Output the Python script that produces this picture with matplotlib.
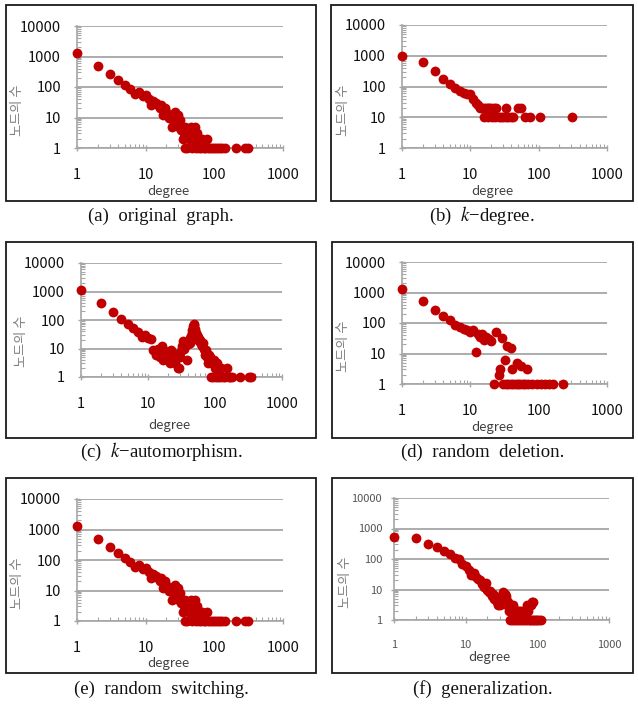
import matplotlib
matplotlib.use("Agg")
import matplotlib.pyplot as plt
from matplotlib.patches import Rectangle
from matplotlib.ticker import LogLocator, NullFormatter

plt.rcParams['font.family'] = ['Noto Sans CJK KR', 'DejaVu Sans']
plt.rcParams['mathtext.fontset'] = 'stix'

# degree distributions (degree, number of nodes)
deg_a = [1, 2, 3, 4, 5, 6, 7, 8, 9, 10,
         11, 12, 13, 14, 15, 16, 17, 18, 19, 20,
         21, 22, 23, 24, 25, 26, 27, 28, 29, 30,
         31, 32, 33, 34, 35, 36,
         37, 38, 40, 41, 43, 45, 47, 49, 50, 52, 54, 56, 58, 60,
         63, 66, 70, 74, 78, 82, 87, 92, 98, 105,
         112, 120, 130, 145, 210, 280, 310]
cnt_a = [1300, 500, 270, 170, 120, 85, 60, 70, 50, 55,
         40, 25, 35, 30, 25, 20, 25, 12, 20, 15,
         12, 10, 12, 5, 10, 7, 15, 8, 6, 12,
         5, 8, 4, 5, 2, 3,
         1, 5, 1, 4, 2, 5, 1, 3, 2, 5, 1, 3, 2, 1,
         1, 2, 1, 1, 2, 1, 1, 1, 1, 1,
         1, 1, 1, 1, 1, 1, 1]

deg_b = [1, 2, 3, 4, 5, 6, 7, 8, 9, 10,
         11, 12, 13, 14, 15, 16, 17, 18, 19, 20,
         22, 24, 33, 50, 55,
         16, 18, 21, 23, 26, 28, 30, 33, 36, 40, 42, 63, 75, 105, 310]
cnt_b = [1000, 630, 320, 170, 125, 87, 72, 63, 56, 55,
         38, 28, 25, 20, 20, 20, 20, 20, 20, 20,
         20, 20, 20, 20, 20,
         10, 10, 10, 10, 10, 10, 10, 10, 10, 10, 10, 10, 10, 10, 10]

deg_c = [1, 2, 3, 4, 5, 6, 7, 8, 9, 10,
         11, 12, 13, 14, 15, 16, 17, 18, 19, 20,
         21, 22, 23, 24, 25, 26, 27, 28, 29, 30,
         31, 32, 33, 34, 35, 36, 37, 38, 39, 40,
         41, 42, 43, 44, 45, 46, 47, 48, 49, 50,
         51, 52, 53, 54, 55, 56, 58, 60, 62, 64,
         66, 68, 70, 72, 74, 76, 78, 80, 82, 85,
         88, 90, 93, 96, 100, 104, 108, 112, 116, 120,
         125, 130, 140, 150, 160, 170, 180, 240, 320, 340]
cnt_c = [1100, 400, 190, 108, 72, 54, 38, 26, 30, 24,
         21, 9, 6, 10, 5, 12, 4, 8, 6, 4,
         3, 9, 5, 7, 3, 5, 6, 2, 2, 5,
         8, 12, 18, 10, 15, 12, 16, 4, 14, 18,
         20, 16, 24, 28, 35, 45, 60, 75, 65, 50,
         40, 35, 28, 30, 22, 25, 18, 20, 14, 12,
         15, 10, 8, 6, 9, 5, 3, 6, 4, 5,
         1, 3, 1, 4, 2, 1, 3, 1, 2, 1,
         2, 1, 1, 2, 1, 1, 1, 1, 1, 1]

deg_d = [1, 2, 3, 4, 5, 6, 7, 8, 9, 10,
         11, 12, 13, 14, 15, 16, 17, 19, 20, 24,
         29, 34, 39, 22, 26, 27, 32, 41, 48, 55,
         68, 30, 33, 36, 39, 42, 46, 50, 54, 58,
         63, 70, 80, 95, 110, 125, 140, 160, 230]
cnt_d = [1300, 520, 270, 173, 125, 85, 72, 65, 60, 50,
         60, 11, 45, 35, 45, 28, 35, 30, 25, 52,
         33, 17, 15, 1, 2, 3, 6, 3, 5, 4,
         3, 1, 1, 1, 1, 1, 1, 1, 1, 1,
         1, 1, 1, 1, 1, 1, 1, 1, 1]

deg_e = list(deg_a)
cnt_e = list(cnt_a)

deg_f = [1, 2, 3, 4, 5, 6, 7, 8, 9, 10,
         11, 12, 13, 14, 15, 16, 17, 18, 19, 20,
         21, 22, 23, 24, 25, 26, 27, 28, 29, 30,
         31, 32, 33, 34, 35, 36, 37, 38, 39, 40,
         42, 44, 46, 48, 50, 53, 56, 60, 64, 68,
         72, 75, 78, 81, 84, 87,
         41, 44, 47, 50, 54, 58, 62, 66, 70, 74, 78, 82, 86, 90, 95, 100, 106, 112]
cnt_f = [515, 480, 300, 240, 187, 145, 110, 100, 69, 60,
         44, 30, 35, 26, 22, 20, 15, 12, 16, 10,
         8, 9, 6, 7, 5, 6, 4, 3, 4, 3,
         5, 4, 8, 6, 7, 5, 6, 3, 4, 2,
         3, 2, 3, 2, 2, 2, 2, 2, 2, 2,
         3, 2, 3, 3, 4, 4,
         1, 1, 1, 1, 1, 1, 1, 1, 1, 1, 1, 1, 1, 1, 1, 1, 1, 1]

captions = ["(a)  original  graph.", "(b)  $k$\u2212degree.", "(c)  $k$\u2212automorphism.",
            "(d)  random  deletion.", "(e)  random  switching.", "(f)  generalization."]
xticks = [1, 10, 100, 1000]
yticks = [1, 10, 100, 1000, 10000]

W, H = 638, 705
RED = '#C00000'
GRAY = '#A6A6A6'

# layout in pixels: box (l, t, r, b), axes (l, t, r, b), caption y, xlabel offset
boxes = [(6, 5, 316, 201), (331, 5, 633, 201),
         (6, 242, 316, 438), (332, 242, 633, 438),
         (6, 478, 316, 673), (332, 478, 633, 673)]
axrects = [(77, 26, 283, 148), (402, 25, 607, 148),
           (81, 263, 282, 377), (402, 262, 607, 384),
           (77, 499, 283, 621), (394, 498, 609, 620)]
cap_y = [216, 216, 452, 452, 689, 689]
xlab_off = [43, 43, 48, 43, 42, 38]

fig = plt.figure(figsize=(W / 100, H / 100), dpi=100)


def frac(l, t, r, b):
    return [l / W, 1 - b / H, (r - l) / W, (b - t) / H]


def panel(i, deg, cnt, small=False):
    assert len(deg) == len(cnt)
    bl, bt, br, bb = boxes[i]
    fig.add_artist(Rectangle((bl / W, 1 - bb / H), (br - bl) / W, (bb - bt) / H,
                             transform=fig.transFigure, fill=False,
                             ec='#1a1a1a', lw=1.3))
    l, t, r, b = axrects[i]
    ax = fig.add_axes(frac(l, t, r, b))
    ax.scatter(deg, cnt, s=50, color=RED, zorder=3, clip_on=False, linewidths=0)
    ax.set_xscale('log')
    ax.set_yscale('log')
    ax.set_xlim(1, 1000)
    ax.set_ylim(1, 10000)
    for s in ['top', 'right']:
        ax.spines[s].set_visible(False)
    for s in ['left', 'bottom']:
        ax.spines[s].set_color(GRAY)
        ax.spines[s].set_linewidth(1.2)
    ax.yaxis.grid(True, which='major', color=GRAY, lw=1.3)
    ax.set_axisbelow(True)
    ax.set_xticks(xticks)
    ax.set_xticklabels([str(v) for v in xticks])
    ax.set_yticks(yticks)
    ax.set_yticklabels([str(v) for v in yticks])
    ax.xaxis.set_minor_locator(LogLocator(base=10, subs=range(2, 10), numticks=20))
    ax.yaxis.set_minor_locator(LogLocator(base=10, subs=range(2, 10), numticks=20))
    ax.xaxis.set_minor_formatter(NullFormatter())
    ax.yaxis.set_minor_formatter(NullFormatter())
    fs = 8 if small else 10.5
    tc = '#555555' if small else '#111111'
    ax.tick_params(axis='both', which='major', direction='inout', length=5,
                   color=GRAY, width=1, labelsize=fs, labelcolor=tc)
    ax.tick_params(axis='both', which='minor', direction='in', length=3,
                   color=GRAY, width=0.8)
    ax.tick_params(axis='x', which='major', pad=12)
    ax.tick_params(axis='y', which='major', pad=9 if not small else 6)
    # axis titles
    ylx = l - (49 if small else 59)
    yly = b - 0.31 * (b - t)
    fig.text(ylx / W, 1 - yly / H, "노드의 수", rotation=90, ha='center', va='center',
             fontsize=9.5, color='#7f7f7f')
    fig.text(((l + r) / 2 - 12) / W, 1 - (b + xlab_off[i]) / H, "degree",
             ha='center', va='center', fontsize=9.5, color='#404040')
    fig.text(((bl + br) / 2) / W, 1 - cap_y[i] / H, captions[i], ha='center', va='center',
             fontsize=13.5, family=['Liberation Serif', 'DejaVu Serif'], color='#111111')
    return ax


panel(0, deg_a, cnt_a)
panel(1, deg_b, cnt_b)
panel(2, deg_c, cnt_c)
panel(3, deg_d, cnt_d)
panel(4, deg_e, cnt_e)
panel(5, deg_f, cnt_f, small=True)

fig.savefig("out.png", dpi=100)
